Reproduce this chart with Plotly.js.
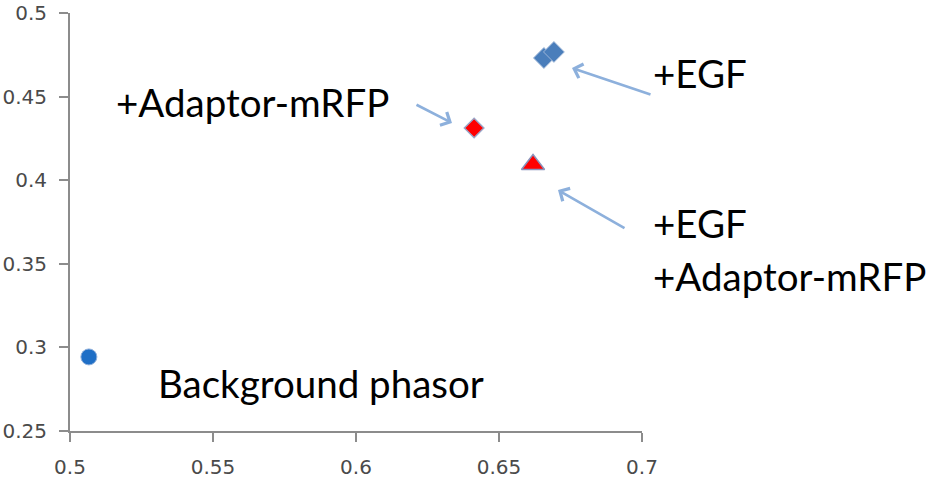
<!DOCTYPE html>
<html>
<head>
<meta charset="utf-8">
<script src="https://cdn.plot.ly/plotly-3.0.1.min.js"></script>
<style>html,body{margin:0;padding:0;background:#fff;}#chart{width:932px;height:480px;}</style>
</head>
<body>
<div id="chart"></div>
<script>
// Data
const backgroundX = [0.5066];
const backgroundY = [0.2943];
const egfX = [0.6657, 0.6692];
const egfY = [0.4731, 0.4767];
const adaptorX = [0.6413];
const adaptorY = [0.4312];
const egfAdaptorX = [0.6619];
const egfAdaptorY = [0.4094];
const xTicks = [0.5, 0.55, 0.6, 0.65, 0.7];
const yTicks = [0.25, 0.3, 0.35, 0.4, 0.45, 0.5];
const labels = ["+EGF", "+Adaptor-mRFP", "+EGF", "+Adaptor-mRFP", "Background phasor"];

const L = 70, T = 13, W = 572, H = 418;
const px = x => (x - L) / W;
const py = y => (T + H - y) / H;

const traces = [
  {x: backgroundX, y: backgroundY, mode: 'markers', type: 'scatter', cliponaxis: false,
   marker: {symbol: 'circle', size: 16, color: '#1f6fc6', line: {color: '#8fb0dc', width: 1}}},
  {x: egfX, y: egfY, mode: 'markers', type: 'scatter', cliponaxis: false,
   marker: {symbol: 'diamond', size: 16, color: '#4a7ebb', line: {color: '#9db6d8', width: 1}}},
  {x: adaptorX, y: adaptorY, mode: 'markers', type: 'scatter', cliponaxis: false,
   marker: {symbol: 'diamond', size: 15, color: '#ff0000', line: {color: '#9aa6c8', width: 1.5}}},
  {x: egfAdaptorX, y: egfAdaptorY, mode: 'markers', type: 'scatter', cliponaxis: false,
   marker: {symbol: 'triangle-up', size: 20, color: '#ff0000', line: {color: '#8a93bb', width: 1.5}}}
];

const txtFont = {family: 'Lato, "Open Sans", sans-serif', size: 38.5, color: '#000'};
const arrowCol = '#8db0dc';
function arrow(hx, hy, tx, ty) {
  return {xref: 'paper', yref: 'paper', x: px(hx), y: py(hy), text: '', showarrow: true,
          ax: tx - hx, ay: ty - hy, arrowhead: 4, arrowsize: 1.1, arrowwidth: 2.6,
          arrowcolor: arrowCol, standoff: 0, startstandoff: 0};
}
function label(t, x, y) {
  return {xref: 'paper', yref: 'paper', x: px(x), y: py(y), text: t, showarrow: false,
          xanchor: 'left', yanchor: 'middle', font: txtFont};
}
const tickFont = {family: 'DejaVu Sans, sans-serif', size: 20, color: '#4a4a4a'};

const layout = {
  width: 932, height: 480,
  margin: {l: L, t: T, r: 932 - L - W, b: 480 - T - H, pad: 0},
  paper_bgcolor: '#fff', plot_bgcolor: '#fff',
  showlegend: false,
  xaxis: {range: [0.5, 0.7], tickvals: xTicks, ticktext: xTicks.map(String),
          showgrid: false, zeroline: false, showline: true, linecolor: '#8c8c8c', linewidth: 2,
          ticks: 'outside', ticklen: 9, tickwidth: 2, tickcolor: '#8c8c8c', ticklabelstandoff: 8,
          tickfont: tickFont},
  yaxis: {range: [0.25, 0.5], tickvals: yTicks, ticktext: yTicks.map(String),
          showgrid: false, zeroline: false, showline: true, linecolor: '#8c8c8c', linewidth: 2,
          ticks: 'outside', ticklen: 9, tickwidth: 2, tickcolor: '#8c8c8c', ticklabelstandoff: 8,
          tickfont: tickFont},
  annotations: [
    arrow(572, 68, 652, 95),
    arrow(452, 123, 415, 104),
    arrow(558, 190, 626, 229),
    label(labels[0], 651, 73),
    label(labels[1], 114, 102),
    label(labels[2], 651, 223),
    label(labels[3], 651, 276),
    label(labels[4], 156, 383)
  ]
};

Plotly.newPlot('chart', traces, layout, {displayModeBar: false, staticPlot: true});
</script>
</body>
</html>
